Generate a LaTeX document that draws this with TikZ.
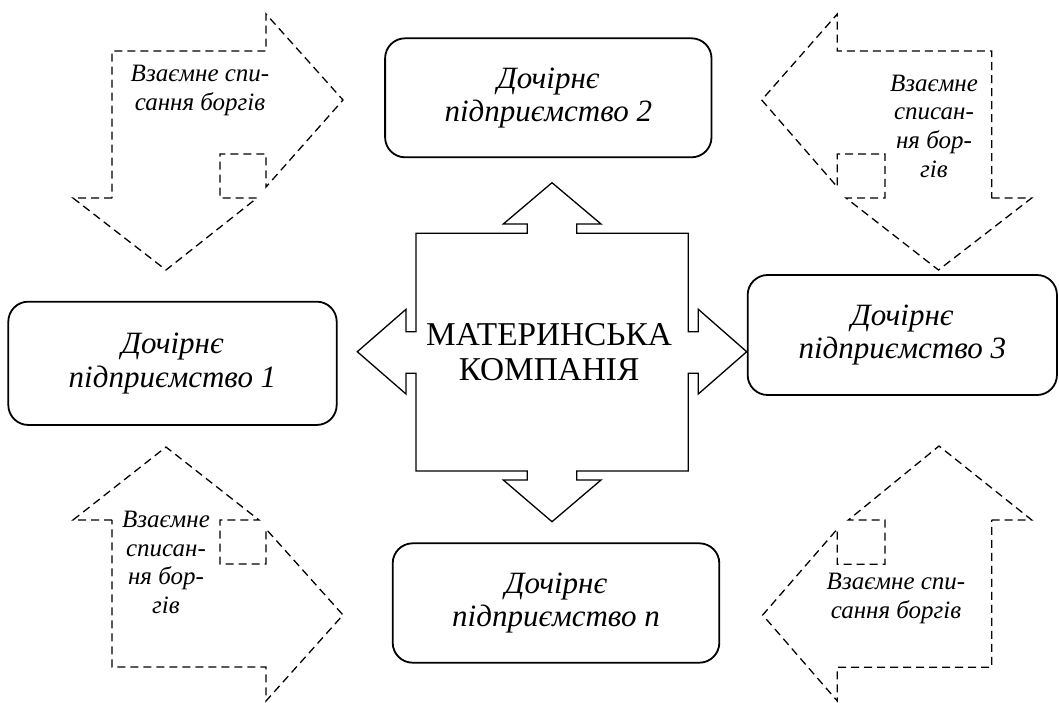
\documentclass[tikz,border=0pt]{standalone}
\usepackage{fontspec}
\setmainfont{Liberation Serif}
\begin{document}
\begin{tikzpicture}[x=1pt,y=-1pt,
  subbox/.style={draw, line width=1.8pt, rounded corners=20pt, inner sep=0pt, align=center,
    font=\fontsize{31}{33.5}\selectfont\itshape},
  dasharrow/.style={draw, line width=1.3pt, dash pattern=on 8pt off 5pt, line join=miter},
  dashtext/.style={align=center, inner sep=0pt, font=\fontsize{25}{28.7}\selectfont\itshape},
  crossshape/.style={draw, line width=1.3pt, line join=miter},
  maintext/.style={align=center, inner sep=0pt, font=\fontsize{33.3}{35}\selectfont}]
\useasboundingbox (0,0) rectangle (1059,702);

% central cross-shaped figure
\draw[crossshape] (416,233.3) -- (527.3,233.3) -- (527.3,224) -- (503.3,224) -- (552,182.7)
  -- (601,224) -- (576.7,224) -- (576.7,233.3) -- (688.3,233.3) -- (688.3,331.7)
  -- (698.3,331.7) -- (698.3,309.3) -- (746.7,351.7) -- (698.3,394) -- (698.3,373.3)
  -- (688.3,373.3) -- (688.3,471) -- (576.7,471) -- (576.7,480) -- (601,480)
  -- (552,521.7) -- (503.3,480) -- (527.3,480) -- (527.3,471) -- (416,471)
  -- (416,373.3) -- (406,373.3) -- (406,394) -- (357.3,351.7) -- (406,309.3)
  -- (406,331.7) -- (416,331.7) -- cycle;
\node[maintext] (parent) at (549,352.5) {МАТЕРИНСЬКА\\КОМПАНІЯ};

% subsidiaries
\node[subbox, minimum width=326.4pt, minimum height=119pt] (sub2) at (548.3,97.8) {Дочірнє\\підприємство 2};
\node[subbox, minimum width=328.4pt, minimum height=123.3pt] (sub1) at (172.5,363.3) {Дочірнє\\підприємство 1};
\node[subbox, minimum width=309.3pt, minimum height=120pt] (sub3) at (902.3,335) {Дочірнє\\підприємство 3};
\node[subbox, minimum width=326.6pt, minimum height=119.4pt] (subn) at (556,603) {Дочірнє\\підприємство n};

% dashed bent arrows
\draw[dasharrow] (112,198) -- (73,198) -- (166,270) -- (257,198) -- (220,198) -- (220,154)
  -- (266,154) -- (266,187) -- (343,100) -- (266,14) -- (266,51) -- (112,51) -- cycle;
\node[dashtext] (tl) at (200,90.5) {Взаємне спи-\\сання боргів};

\draw[dasharrow] (991.7,198) -- (1031.7,198) -- (938.5,270) -- (846,198) -- (885,198) -- (885,154)
  -- (837.3,154) -- (837.3,187) -- (761.7,100) -- (837.3,14) -- (837.3,51) -- (991.7,51) -- cycle;
\node[dashtext] (tr) at (934,126) {Взаємне\\списан-\\ня бор-\\гів};

\draw[dasharrow] (112,520) -- (73,520) -- (166,447) -- (259,520) -- (220,520) -- (220,564)
  -- (266,564) -- (266,529) -- (343,615) -- (266,701) -- (266,667) -- (112,667) -- cycle;
\node[dashtext] (bl) at (166,562.5) {Взаємне\\списан-\\ня бор-\\гів};

\draw[dasharrow] (991.7,520) -- (1031.7,520) -- (939,446) -- (848.3,520) -- (885,520) -- (885,564.3)
  -- (837.3,564.3) -- (837.3,529) -- (762.7,615) -- (837.3,701) -- (837.3,667.3) -- (991.7,667.3) -- cycle;
\node[dashtext] (br) at (896,598.5) {Взаємне спи-\\сання боргів};
\end{tikzpicture}
\end{document}
